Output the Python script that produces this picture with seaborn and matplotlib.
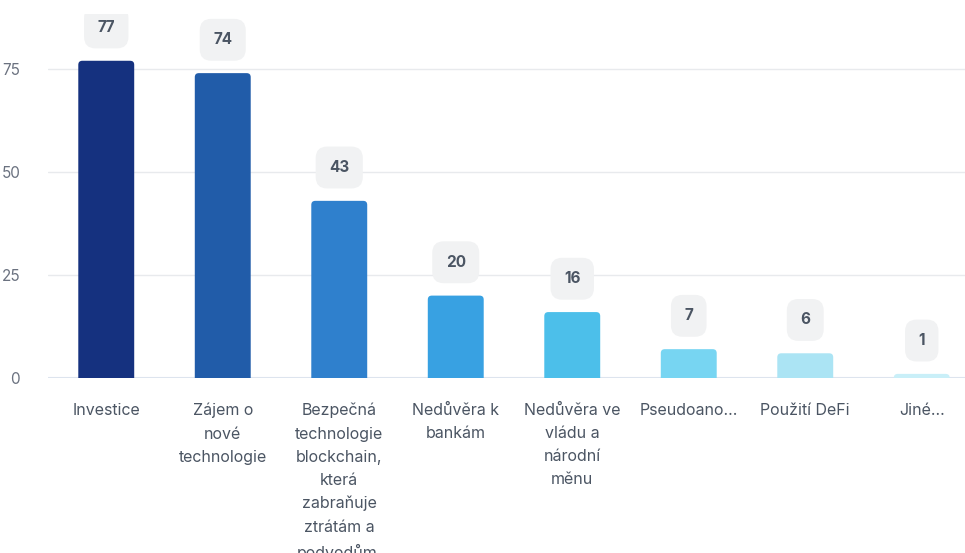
import matplotlib
matplotlib.use("Agg")
import matplotlib.pyplot as plt
import seaborn as sns
import pandas as pd
from matplotlib.patches import FancyBboxPatch
from matplotlib.transforms import Bbox, TransformedBbox

categories = [
    "Investice",
    "Zájem o\nnové\ntechnologie",
    "Bezpečná\ntechnologie\nblockchain,\nkterá\nzabraňuje\nztrátám a\npodvodům.",
    "Nedůvěra k\nbankám",
    "Nedůvěra ve\nvládu a\nnárodní\nměnu",
    "Pseudoano...",
    "Použití DeFi",
    "Jiné...",
]
values = [77, 74, 43, 20, 16, 7, 6, 1]
colors = ["#15317f", "#215ca9", "#2f80cd", "#38a1e2", "#4cbfea",
          "#77d5f2", "#abe4f4", "#c9eff8"]
y_ticks = [0, 25, 50, 75]

sns.set_theme(style="white")
plt.rcParams["font.family"] = ["Inter", "DejaVu Sans"]

df = pd.DataFrame({"category": categories, "value": values})

W, H = 965, 553
fig = plt.figure(figsize=(W / 100, H / 100), dpi=100)
ax = fig.add_axes([48 / W, 175 / H, 932 / W, 378 / H])

sns.barplot(data=df, x="category", y="value", hue="category",
            palette=colors, legend=False, width=0.48, ax=ax,
            saturation=1, zorder=3)

ymax = 91.75
ax.set_ylim(0, ymax)
ax.set_xlim(-0.5, len(categories) - 0.5)

# Swap the square bars for ones with slightly rounded tops
px_per_x = 932 / len(categories)
px_per_y = 378 / ymax
radius_px = 4
for p in list(ax.patches):
    x0, w, h = p.get_x(), p.get_width(), p.get_height()
    fc = p.get_facecolor()
    rounded = FancyBboxPatch(
        (x0, -2), w, h + 2,
        boxstyle=f"round,pad=0,rounding_size={radius_px / px_per_x}",
        mutation_aspect=px_per_x / px_per_y,
        facecolor=fc, edgecolor="none", zorder=3,
    )
    ax.add_patch(rounded)
    p.remove()

ax.set_yticks(y_ticks)
ax.yaxis.grid(True, color="#e8eaed", linewidth=1, zorder=0)
ax.axhline(0, color="#dde4ee", linewidth=1.5, zorder=2)
for s in ax.spines.values():
    s.set_visible(False)
ax.set_xlabel("")
ax.set_ylabel("")
ax.tick_params(axis="y", length=0, pad=20, labelsize=11, labelcolor="#6b7280")
ax.tick_params(axis="x", length=0, pad=18, labelsize=11.5, labelcolor="#4b5563")
for lbl in ax.get_xticklabels():
    lbl.set_linespacing(1.67)
    lbl.set_horizontalalignment("center")
for lbl in ax.get_yticklabels():
    lbl.set_horizontalalignment("right")

label_clip = TransformedBbox(Bbox([[0, 0], [1, (H - 14) / H]]), fig.transFigure)
for i, v in enumerate(values):
    t = ax.annotate(
        f"{v}", xy=(i, v), xytext=(0, 24), textcoords="offset points",
        ha="center", va="center", fontsize=11, fontweight="bold",
        color="#4b5563", zorder=5, annotation_clip=False,
        bbox=dict(boxstyle="round,pad=0.88,rounding_size=0.75",
                  facecolor="#f1f2f3", edgecolor="none"),
    )
    t.set_clip_on(True)
    t.set_clip_box(label_clip)

fig.savefig("out.png", dpi=100)
